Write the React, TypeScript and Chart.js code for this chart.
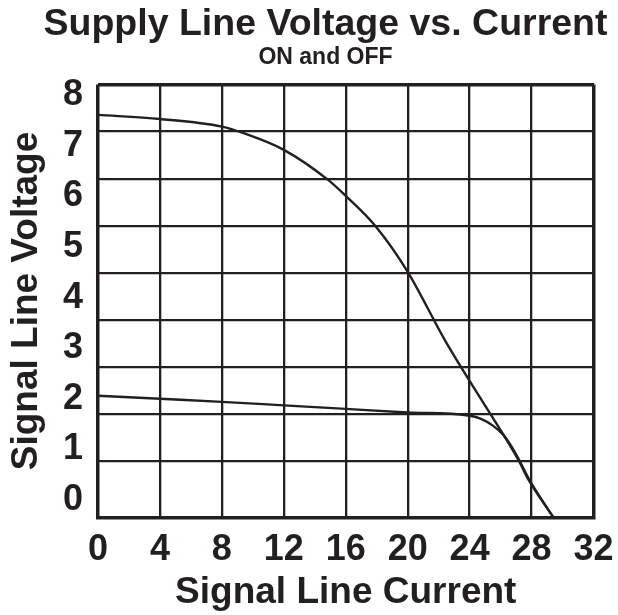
import React, { useEffect, useRef } from "react";
import { Chart, registerables } from "chart.js";

Chart.register(...registerables);

// OFF curve (upper)
const offCurrent = [0, 4, 8, 9.4, 12, 14.8, 16, 17.9, 20, 22.4, 25.3, 26, 27.15, 27.8, 29.4];
const offVoltage = [7.61, 7.53, 7.38, 7.25, 6.92, 6.34, 6.01, 5.42, 4.51, 3.16, 1.72, 1.38, 0.79, 0.4, -0.34];

// ON curve (lower)
const onCurrent = [0, 4, 8, 12, 16, 20, 23.9, 24.7, 25.5, 26.2, 26.6, 27.15, 27.8, 29.4];
const onVoltage = [2.06, 2.0, 1.94, 1.87, 1.8, 1.73, 1.67, 1.61, 1.47, 1.28, 1.11, 0.82, 0.43, -0.34];

const xTickValues = [0, 4, 8, 12, 16, 20, 24, 28, 32];
const yTickValues = [0, 1, 2, 3, 4, 5, 6, 7, 8];
const gridRowValues = [0, 1, 2, 3, 4, 5, 6, 7, 8];

const INK = "#231f20";
const FONT = "'Liberation Sans', Arial, Helvetica, sans-serif";

export default function App() {
  const ref = useRef<HTMLCanvasElement>(null);

  useEffect(() => {
    const canvas = ref.current;
    if (!canvas) return;
    const chart = new Chart(canvas, {
      type: "line",
      data: {
        datasets: [
          {
            label: "OFF",
            data: offCurrent.map((x, i) => ({ x, y: offVoltage[i] })),
            borderColor: INK,
            borderWidth: 2.4,
            pointRadius: 0,
            fill: false,
            cubicInterpolationMode: "monotone",
            yAxisID: "y",
          },
          {
            label: "ON",
            data: onCurrent.map((x, i) => ({ x, y: onVoltage[i] })),
            borderColor: INK,
            borderWidth: 2.4,
            pointRadius: 0,
            fill: false,
            cubicInterpolationMode: "monotone",
            yAxisID: "y",
          },
        ],
      },
      options: {
        animation: false,
        responsive: false,
        layout: { padding: { left: 33, right: 0, top: 0, bottom: 0 } },
        plugins: {
          legend: { display: false },
          tooltip: { enabled: false },
          title: {
            display: true,
            text: "Supply Line Voltage vs. Current",
            color: INK,
            font: { family: FONT, size: 37.5, weight: "bold", lineHeight: 1 },
            padding: { top: 5.75, bottom: 0 },
          },
          subtitle: {
            display: true,
            text: "ON and OFF",
            color: INK,
            font: { family: FONT, size: 23, weight: "bold", lineHeight: 1 },
            padding: { top: 3.25, bottom: 15 },
          },
        },
        scales: {
          x: {
            type: "linear",
            min: 0,
            max: 32,
            afterBuildTicks: (s: any) => {
              s.ticks = xTickValues.map((v) => ({ value: v }));
            },
            ticks: {
              color: INK,
              font: { family: FONT, size: 36, weight: "bold" },
              padding: 11.4,
              maxRotation: 0,
              autoSkip: false,
            },
            grid: {
              color: INK,
              lineWidth: (ctx: any) =>
                ctx.tick && (ctx.tick.value === 0 || ctx.tick.value === 32) ? 3.5 : 2.3,
              drawTicks: false,
            },
            border: { display: true, color: INK, width: 3.5 },
            title: {
              display: true,
              text: "Signal Line Current",
              color: INK,
              font: { family: FONT, size: 37, weight: "bold", lineHeight: 1.2 },
              padding: { top: 0, bottom: 0 },
            },
            afterFit: (s: any) => {
              s.height = 97.5;
              s.paddingLeft = 0;
              s.paddingRight = 0;
            },
          },
          y: {
            type: "linear",
            position: "left",
            min: -0.346,
            max: 8.211,
            afterBuildTicks: (s: any) => {
              s.ticks = yTickValues.map((v) => ({ value: v }));
            },
            ticks: {
              color: INK,
              font: { family: FONT, size: 36, weight: "bold" },
              padding: 15,
              autoSkip: false,
            },
            grid: { display: false, drawTicks: false },
            border: { display: false },
            title: {
              display: true,
              text: "Signal Line Voltage",
              color: INK,
              font: { family: FONT, size: 37, weight: "bold", lineHeight: 1 },
              padding: { top: -24.5, bottom: 0 },
            },
            afterFit: (s: any) => {
              s.width = 65;
              s.paddingTop = 0;
              s.paddingBottom = 0;
            },
          },
          yGrid: {
            type: "linear",
            position: "right",
            min: -1.19,
            max: 8,
            afterBuildTicks: (s: any) => {
              s.ticks = gridRowValues.map((v) => ({ value: v }));
            },
            ticks: { display: false },
            grid: {
              color: INK,
              lineWidth: (ctx: any) => (ctx.tick && ctx.tick.value === 8 ? 3.5 : 2.3),
              drawTicks: false,
            },
            border: { display: false },
            afterFit: (s: any) => {
              s.width = 24.5;
              s.paddingTop = 0;
              s.paddingBottom = 0;
            },
          },
        },
      },
    } as any);
    return () => chart.destroy();
  }, []);

  return (
    <div style={{ position: "absolute", left: 0, top: 0, width: 618, height: 615, background: "#ffffff" }}>
      <canvas ref={ref} width={618} height={615} style={{ display: "block", width: 618, height: 615 }} />
    </div>
  );
}
